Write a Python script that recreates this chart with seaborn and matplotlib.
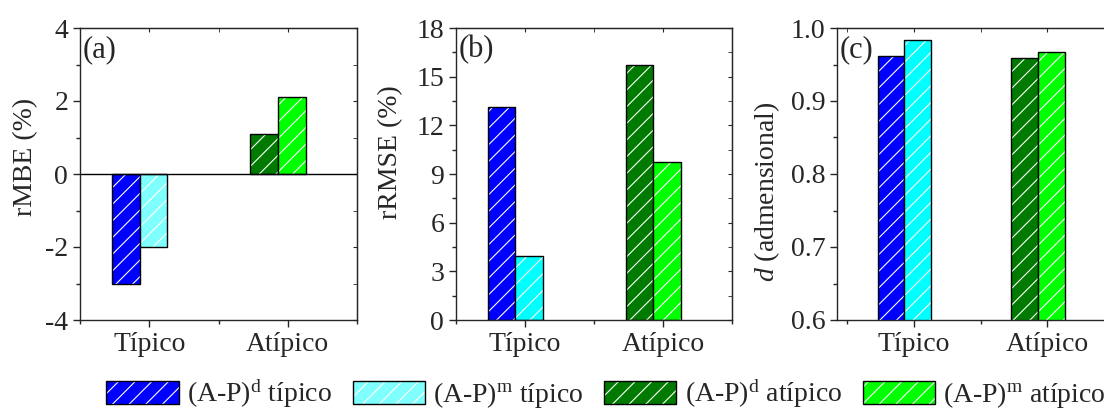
import pandas as pd
import seaborn as sns
import matplotlib.pyplot as plt
import matplotlib.patches as mpatches
import matplotlib.colors as mcolors
from matplotlib.ticker import MultipleLocator, FixedLocator

categorias = ['Típico', 'Atípico']
series = ['(A-P)$^\\mathrm{d}$ típico', '(A-P)$^\\mathrm{m}$ típico',
          '(A-P)$^\\mathrm{d}$ atípico', '(A-P)$^\\mathrm{m}$ atípico']
grupo_serie = ['Típico', 'Típico', 'Atípico', 'Atípico']
metodo_serie = ['d', 'm', 'd', 'm']

rmbe = [-3.0, -2.0, 1.1, 2.1]
rrmse = [13.1, 3.93, 15.7, 9.77]
d_indice = [0.962, 0.983, 0.959, 0.967]

sns.set_style('ticks')
plt.rcParams['font.family'] = ['Liberation Serif', 'DejaVu Serif']
plt.rcParams['mathtext.fontset'] = 'custom'
plt.rcParams['mathtext.rm'] = 'Liberation Serif'
plt.rcParams['mathtext.it'] = 'Liberation Serif:italic'
plt.rcParams['axes.unicode_minus'] = False
plt.rcParams['font.size'] = 20
plt.rcParams['hatch.linewidth'] = 0.8

pal_a = ['#0000FF', '#80FFFF', '#007A00', '#00FF00']
pal_bc = ['#0000FF', '#00FFFF', '#007A00', '#00FF00']
branco = mcolors.to_rgba('white')

fig = plt.figure(figsize=(11.04, 4.08), dpi=100)
y0, alt = 1 - 320 / 408, 292 / 408
ax_a = fig.add_axes([80 / 1104, y0, 277 / 1104, alt])
ax_b = fig.add_axes([456 / 1104, y0, 276 / 1104, alt])
ax_c = fig.add_axes([837 / 1104, y0, 277 / 1104, alt])

# deslocamento das barras em relacao ao rotulo da categoria
desloc = {'d': -0.17, 'm': 0.03}
pos_cat = {c: i + 1 for i, c in enumerate(categorias)}


def painel(ax, valores, pal, ylab, letra, ylim, passo, menor, xlim, lab_xy):
    df = pd.DataFrame({'serie': series, 'grupo': grupo_serie,
                       'metodo': metodo_serie, 'valor': valores})
    df['pos'] = df['grupo'].map(pos_cat) + df['metodo'].map(desloc)
    sns.barplot(data=df, x='pos', y='valor', hue='serie', hue_order=series,
                palette=pal, saturation=1, dodge=False, native_scale=True, width=1.0,
                edgecolor='black', linewidth=1.0, hatch='//', errorbar=None,
                legend=False, ax=ax)
    for p in ax.patches:
        p._hatch_color = branco
    ax.set_xlim(*xlim)
    ax.set_ylim(*ylim)
    ax.xaxis.set_major_locator(FixedLocator([1, 2]))
    ax.xaxis.set_minor_locator(FixedLocator([0.5, 1.5, 2.5]))
    ax.set_xticklabels(categorias)
    ax.yaxis.set_major_locator(MultipleLocator(passo))
    ax.yaxis.set_minor_locator(MultipleLocator(menor))
    ax.tick_params(which='major', direction='out', length=5, width=1, labelsize=20)
    ax.tick_params(which='minor', direction='out', length=3, width=1)
    ax.set_xlabel('')
    ax.set_ylabel(ylab, fontsize=20)
    ax.yaxis.set_label_coords(*lab_xy)
    for s in ax.spines.values():
        s.set_visible(True)
        s.set_linewidth(1)
    topo = ax.secondary_xaxis('top')
    topo.xaxis.set_major_locator(FixedLocator([1, 2]))
    topo.xaxis.set_minor_locator(FixedLocator([0.5, 1.5, 2.5]))
    topo.tick_params(which='both', direction='in', length=3, labeltop=False)
    dire = ax.secondary_yaxis('right')
    dire.yaxis.set_major_locator(MultipleLocator(passo))
    dire.yaxis.set_minor_locator(MultipleLocator(menor))
    dire.tick_params(which='both', direction='in', length=3, labelright=False)
    ax.text(0.01, 0.975, letra, transform=ax.transAxes, ha='left', va='top', fontsize=22)


painel(ax_a, rmbe, pal_a, 'rMBE (%)', '(a)', (-4, 4), 2, 1, (0.5, 2.5), (-0.15, 0.56))
ax_a.axhline(0, color='black', linewidth=1)
painel(ax_b, rrmse, pal_bc, 'rRMSE (%)', '(b)', (0, 18), 3, 1.5, (0.5, 2.5), (-0.19, 0.575))
painel(ax_c, d_indice, pal_bc, '$d$ (admensional)', '(c)', (0.6, 1.0), 0.1, 0.05, (0.425, 2.5), (-0.2, 0.44))
ax_c.yaxis.set_major_formatter(plt.FormatStrFormatter('%.1f'))

handles = []
for s, c in zip(series, pal_a):
    h = mpatches.Patch(facecolor=c, edgecolor='black', linewidth=1.0, hatch='//')
    h._hatch_color = branco
    handles.append(h)
leg = fig.legend(handles=handles, labels=series, loc='center', bbox_to_anchor=(0.549, 1 - 394 / 408),
                 ncol=4, frameon=False, fontsize=20, handlelength=2.6, handleheight=0.9,
                 handletextpad=0.3, columnspacing=0.75, borderaxespad=0, borderpad=0)
for h in leg.legend_handles:
    h._hatch_color = branco

fig.savefig('out.png', dpi=100)
